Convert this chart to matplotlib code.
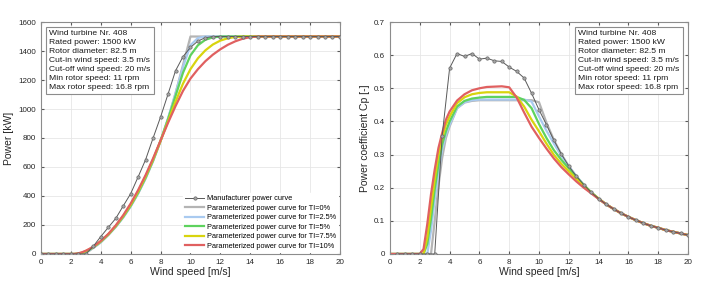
import numpy as np
import matplotlib
matplotlib.use("Agg")
import matplotlib.pyplot as plt

plt.rcParams["font.family"] = ["Liberation Sans", "DejaVu Sans"]

# manufacturer curve (0.5 m/s steps)
ws_man = np.arange(0, 20.01, 0.5)
p_man = [0, 0, 0, 0, 0, 0, 0, 53, 120, 183, 245, 331, 416, 532, 651, 800, 945, 1103,
         1264, 1361, 1425, 1469, 1492] + [1500] * 18
ws_cp_man = ws_man[1:]
cp_man = [0, 0, 0, 0, 0, 0, 0.357, 0.561, 0.605, 0.596, 0.605, 0.588, 0.591, 0.583,
          0.581, 0.564, 0.551, 0.531, 0.485, 0.435, 0.39, 0.343, 0.301, 0.265, 0.235,
          0.209, 0.186, 0.167, 0.150, 0.136, 0.123, 0.112, 0.102, 0.093, 0.085, 0.079,
          0.072, 0.067, 0.062, 0.057]

# parameterized curves
ws_fit = [0, 1, 2, 2.25, 2.5, 2.75, 3, 3.25, 3.5, 3.75, 4, 4.5, 5, 5.5, 6, 6.5, 7, 7.5,
          8, 8.5, 9, 9.5, 10, 10.5, 11, 11.5, 12, 12.5, 13, 13.5, 14]
ti_labels = ["0%", "2.5%", "5%", "7.5%", "10%"]

p_ti0 = [0, 0, 0, 0, 0, 0, 9, 23, 42, 60, 80, 130, 186, 252, 328, 417, 521, 641, 778,
         933, 1108, 1303, 1500, 1500, 1500, 1500, 1500, 1500, 1500, 1500, 1500]
p_ti25 = [0, 0, 0, 0, 0, 5, 14.5, 27, 44, 63, 82, 131, 188, 253, 330, 419, 523, 643, 781,
          935, 1108, 1290, 1440, 1490, 1500, 1500, 1500, 1500, 1500, 1500, 1500]
p_ti5 = [0, 0, 0, 0, 1.5, 7, 17, 30, 47, 65, 85, 133, 190, 256, 333, 423, 527, 646, 782,
         930, 1090, 1250, 1370, 1440, 1478, 1494, 1500, 1500, 1500, 1500, 1500]
p_ti75 = [0, 0, 0, 0, 2.8, 9.5, 20, 33, 49, 68, 88, 136, 194, 262, 340, 432, 536, 653, 780,
          915, 1050, 1175, 1275, 1350, 1405, 1445, 1472, 1488, 1497, 1500, 1500]
p_ti10 = [0, 0, 0, 0.5, 4.5, 12, 22.5, 36, 51, 70, 90, 138, 197, 267, 348, 441, 545, 660,
          783, 905, 1020, 1125, 1210, 1275, 1330, 1375, 1412, 1443, 1467, 1485, 1496]

cp_ti0 = [0, 0, 0, 0, 0, 0, 0.10, 0.205, 0.29, 0.35, 0.385, 0.44, 0.457, 0.462, 0.464,
          0.464, 0.464, 0.464, 0.464, 0.464, 0.464, 0.464, 0.458, 0.396, 0.344, 0.301,
          0.265, 0.235, 0.209, 0.186, 0.167]
cp_ti25 = [0, 0, 0, 0, 0, 0.07, 0.165, 0.245, 0.315, 0.36, 0.39, 0.44, 0.458, 0.464,
           0.466, 0.466, 0.466, 0.466, 0.466, 0.466, 0.466, 0.46, 0.415, 0.372, 0.333,
           0.296, 0.264, 0.235, 0.209, 0.186, 0.167]
cp_ti5 = [0, 0, 0, 0, 0.03, 0.105, 0.195, 0.27, 0.33, 0.37, 0.40, 0.445, 0.462, 0.469,
          0.472, 0.474, 0.474, 0.474, 0.474, 0.474, 0.465, 0.44, 0.392, 0.35, 0.313,
          0.284, 0.258, 0.233, 0.208, 0.186, 0.167]
cp_ti75 = [0, 0, 0, 0, 0.05, 0.14, 0.225, 0.30, 0.35, 0.39, 0.415, 0.455, 0.473, 0.482,
           0.486, 0.488, 0.488, 0.488, 0.488, 0.475, 0.445, 0.405, 0.37, 0.333, 0.299,
           0.272, 0.249, 0.227, 0.206, 0.185, 0.167]
cp_ti10 = [0, 0, 0, 0.015, 0.09, 0.18, 0.255, 0.32, 0.365, 0.405, 0.43, 0.463, 0.482,
           0.494, 0.5, 0.504, 0.505, 0.506, 0.503, 0.472, 0.427, 0.384, 0.35, 0.318,
           0.288, 0.262, 0.24, 0.219, 0.2, 0.183, 0.166]

fit_colors = ["#b4b4b4", "#a9caf0", "#5ed25e", "#d8d40e", "#e06060"]
p_fits = [p_ti0, p_ti25, p_ti5, p_ti75, p_ti10]
cp_fits = [cp_ti0, cp_ti25, cp_ti5, cp_ti75, cp_ti10]

info = ("Wind turbine Nr. 408\nRated power: 1500 kW\nRotor diameter: 82.5 m\n"
        "Cut-in wind speed: 3.5 m/s\nCut-off wind speed: 20 m/s\n"
        "Min rotor speed: 11 rpm\nMax rotor speed: 16.8 rpm")

fig = plt.figure(figsize=(7.09, 2.86), dpi=100)
ax1 = fig.add_axes([0.0578, 0.112, 0.4217, 0.811])
ax2 = fig.add_axes([0.5501, 0.112, 0.4203, 0.811])

# tail beyond 14 m/s: fits coincide with rated power / manufacturer Cp
tail_ws = list(ws_man[29:])
tail_cp = cp_man[28:]

ax1.plot(ws_man, p_man, color="0.35", lw=0.7, marker="o", ms=2.4, mfc="0.65",
         mec="0.4", mew=0.5, label="Manufacturer power curve", zorder=5)
for p, c, ti in zip(p_fits, fit_colors, ti_labels):
    ax1.plot(ws_fit + tail_ws, p + [1500] * len(tail_ws), color=c, lw=1.6,
             label="Parameterized power curve for TI=" + ti)

ax2.plot(ws_cp_man, cp_man, color="0.35", lw=0.7, marker="o", ms=2.4, mfc="0.65",
         mec="0.4", mew=0.5, zorder=5)
for cp, c in zip(cp_fits, fit_colors):
    ax2.plot(ws_fit + tail_ws, cp + tail_cp, color=c, lw=1.6)

for ax in (ax1, ax2):
    ax.set_xlim(0, 20)
    ax.set_xticks(range(0, 21, 2))
    ax.grid(True, color="0.9", lw=0.6)
    ax.set_axisbelow(True)
    ax.tick_params(direction="in", length=2.5, labelsize=5.8, colors="0.35",
                   labelcolor="0.15", top=True, right=True)
    for s in ax.spines.values():
        s.set_color("0.55")
        s.set_linewidth(0.8)
    ax.set_xlabel("Wind speed [m/s]", fontsize=7.5, color="0.15", labelpad=1)

ax1.set_ylim(0, 1600)
ax1.set_yticks(range(0, 1601, 200))
ax1.set_ylabel("Power [kW]", fontsize=7.5, color="0.15", labelpad=3)
ax2.set_ylim(0, 0.7)
ax2.set_yticks(np.arange(0, 0.71, 0.1))
ax2.set_yticklabels(["0", "0.1", "0.2", "0.3", "0.4", "0.5", "0.6", "0.7"])
ax2.set_ylabel("Power coefficient Cp [-]", fontsize=7.5, color="0.15", labelpad=3)

box = dict(boxstyle="square,pad=0.4", fc="white", ec="0.55", lw=0.8)
ax1.text(0.027, 0.965, info, transform=ax1.transAxes, va="top", ha="left",
         fontsize=6.1, linespacing=1.38, color="0.1", bbox=box)
ax2.text(0.972, 0.965, info, transform=ax2.transAxes, va="top", ha="right",
         multialignment="left", fontsize=6.1, linespacing=1.38, color="0.1", bbox=box)

leg = ax1.legend(loc="lower right", fontsize=5.3, frameon=True, fancybox=False,
                 edgecolor="white", framealpha=1, handlelength=2.6,
                 labelspacing=0.32, borderaxespad=0.25, handletextpad=0.35,
                 borderpad=0.3)

fig.savefig("out.png", dpi=100)
